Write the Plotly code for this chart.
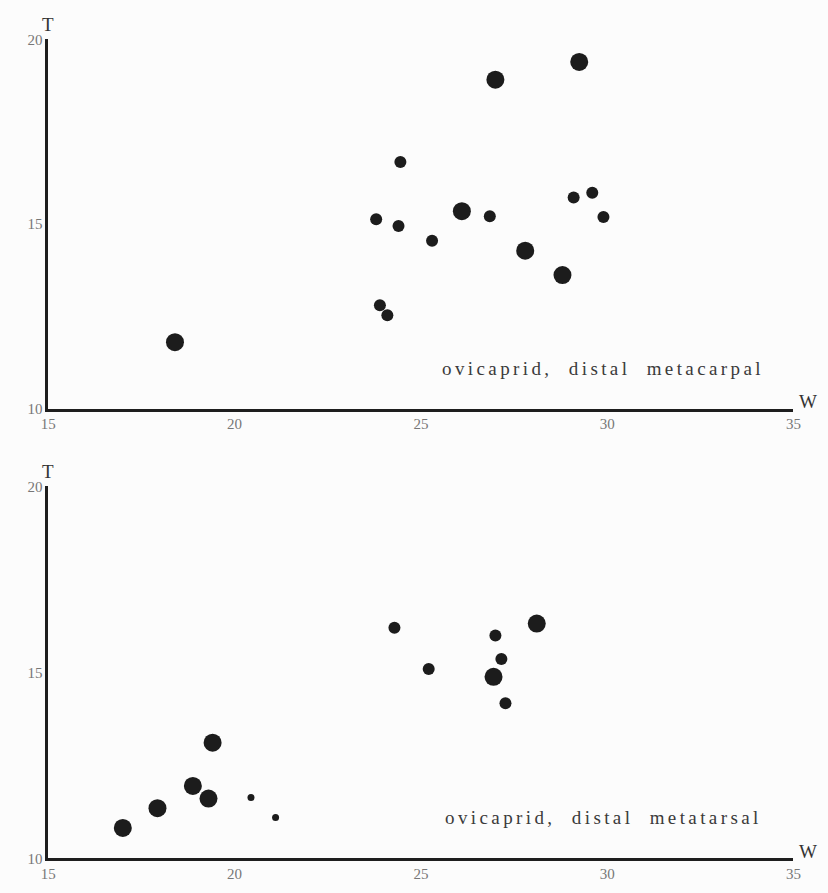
import plotly.graph_objects as go

# ---------------- data ----------------
# top panel: ovicaprid, distal metacarpal
mc_w = [18.4, 23.8, 24.4, 24.45, 23.9, 24.1, 25.3, 26.1, 26.85, 27.0, 27.8, 28.8, 29.1, 29.25, 29.6, 29.9]
mc_t = [11.8, 15.13, 14.95, 16.68, 12.8, 12.53, 14.55, 15.35, 15.21, 18.91, 14.28, 13.62, 15.72, 19.39, 15.85, 15.19]
mc_n = ["L", "S", "S", "S", "S", "S", "S", "L", "S", "L", "L", "L", "S", "L", "S", "S"]

# bottom panel: ovicaprid, distal metatarsal
mt_w = [17.0, 17.93, 18.88, 19.3, 19.41, 20.44, 21.1, 24.29, 25.21, 26.95, 27.0, 27.16, 27.27, 28.11]
mt_t = [10.82, 11.35, 11.95, 11.61, 13.11, 11.64, 11.1, 16.2, 15.09, 14.88, 15.99, 15.36, 14.17, 16.31]
mt_n = ["L", "L", "L", "L", "L", "T", "T", "S", "S", "L", "S", "S", "S", "L"]

x_ticks = [15, 20, 25, 30, 35]
y_ticks = [10, 15, 20]
captions = ["ovicaprid,  distal  metacarpal", "ovicaprid,  distal  metatarsal"]

# ---------------- styling ----------------
W, H = 828, 893
size_map = {"L": 18, "S": 12, "T": 7}
DOT = "#1c1c1c"
AX = "#1e1e1e"
SERIF = "Liberation Serif, DejaVu Serif, serif"

fig = go.Figure()

fig.add_trace(go.Scatter(x=mc_w, y=mc_t, mode="markers", xaxis="x", yaxis="y",
                         marker=dict(size=[size_map[s] for s in mc_n], color=DOT, opacity=1,
                                     line=dict(width=0)),
                         showlegend=False, hoverinfo="x+y"))
fig.add_trace(go.Scatter(x=mt_w, y=mt_t, mode="markers", xaxis="x2", yaxis="y2",
                         marker=dict(size=[size_map[s] for s in mt_n], color=DOT, opacity=1,
                                     line=dict(width=0)),
                         showlegend=False, hoverinfo="x+y"))

def xax(anchor):
    return dict(range=[15, 35], domain=[42 / W, 800 / W], anchor=anchor,
                showline=True, linewidth=2.5, linecolor=AX, showgrid=False, zeroline=False,
                tickvals=x_ticks, ticktext=[str(v) for v in x_ticks], ticks="",
                tickfont=dict(family=SERIF, size=15, color="#777"))

def yax(anchor, top_px, bot_px):
    return dict(range=[10, 20], domain=[1 - bot_px / H, 1 - top_px / H], anchor=anchor,
                showline=True, linewidth=2.5, linecolor=AX, showgrid=False, zeroline=False,
                tickvals=y_ticks, ticktext=[str(v) for v in y_ticks], ticks="",
                tickfont=dict(family=SERIF, size=15, color="#777"))

annotations = []
for xr, yr, cap in [("x", "y", captions[0]), ("x2", "y2", captions[1])]:
    annotations.append(dict(x=15, y=20, xref=xr, yref=yr, text="T", showarrow=False,
                            xanchor="center", yanchor="bottom", yshift=2,
                            font=dict(family=SERIF, size=19, color="#333")))
    annotations.append(dict(x=35, y=10, xref=xr, yref=yr, text="W", showarrow=False,
                            xanchor="left", yanchor="middle", xshift=4, yshift=7,
                            font=dict(family=SERIF, size=19, color="#333")))
    annotations.append(dict(x=29.9, y=11.1, xref=xr, yref=yr,
                            text='<span style="letter-spacing:3.4px">' + cap + "</span>",
                            showarrow=False, xanchor="center", yanchor="middle",
                            font=dict(family=SERIF, size=19, color="#3a3a3a")))

fig.update_layout(
    width=W, height=H, margin=dict(l=0, r=0, t=0, b=0),
    paper_bgcolor="#fcfcfc", plot_bgcolor="rgba(0,0,0,0)",
    xaxis=xax("y"), yaxis=yax("x", 32, 408),
    xaxis2=xax("y2"), yaxis2=yax("x2", 487, 866),
    annotations=annotations,
)

fig.write_html("out.html", config={"displayModeBar": False},
               post_script="document.body.style.margin='0';document.body.style.overflow='hidden';")
